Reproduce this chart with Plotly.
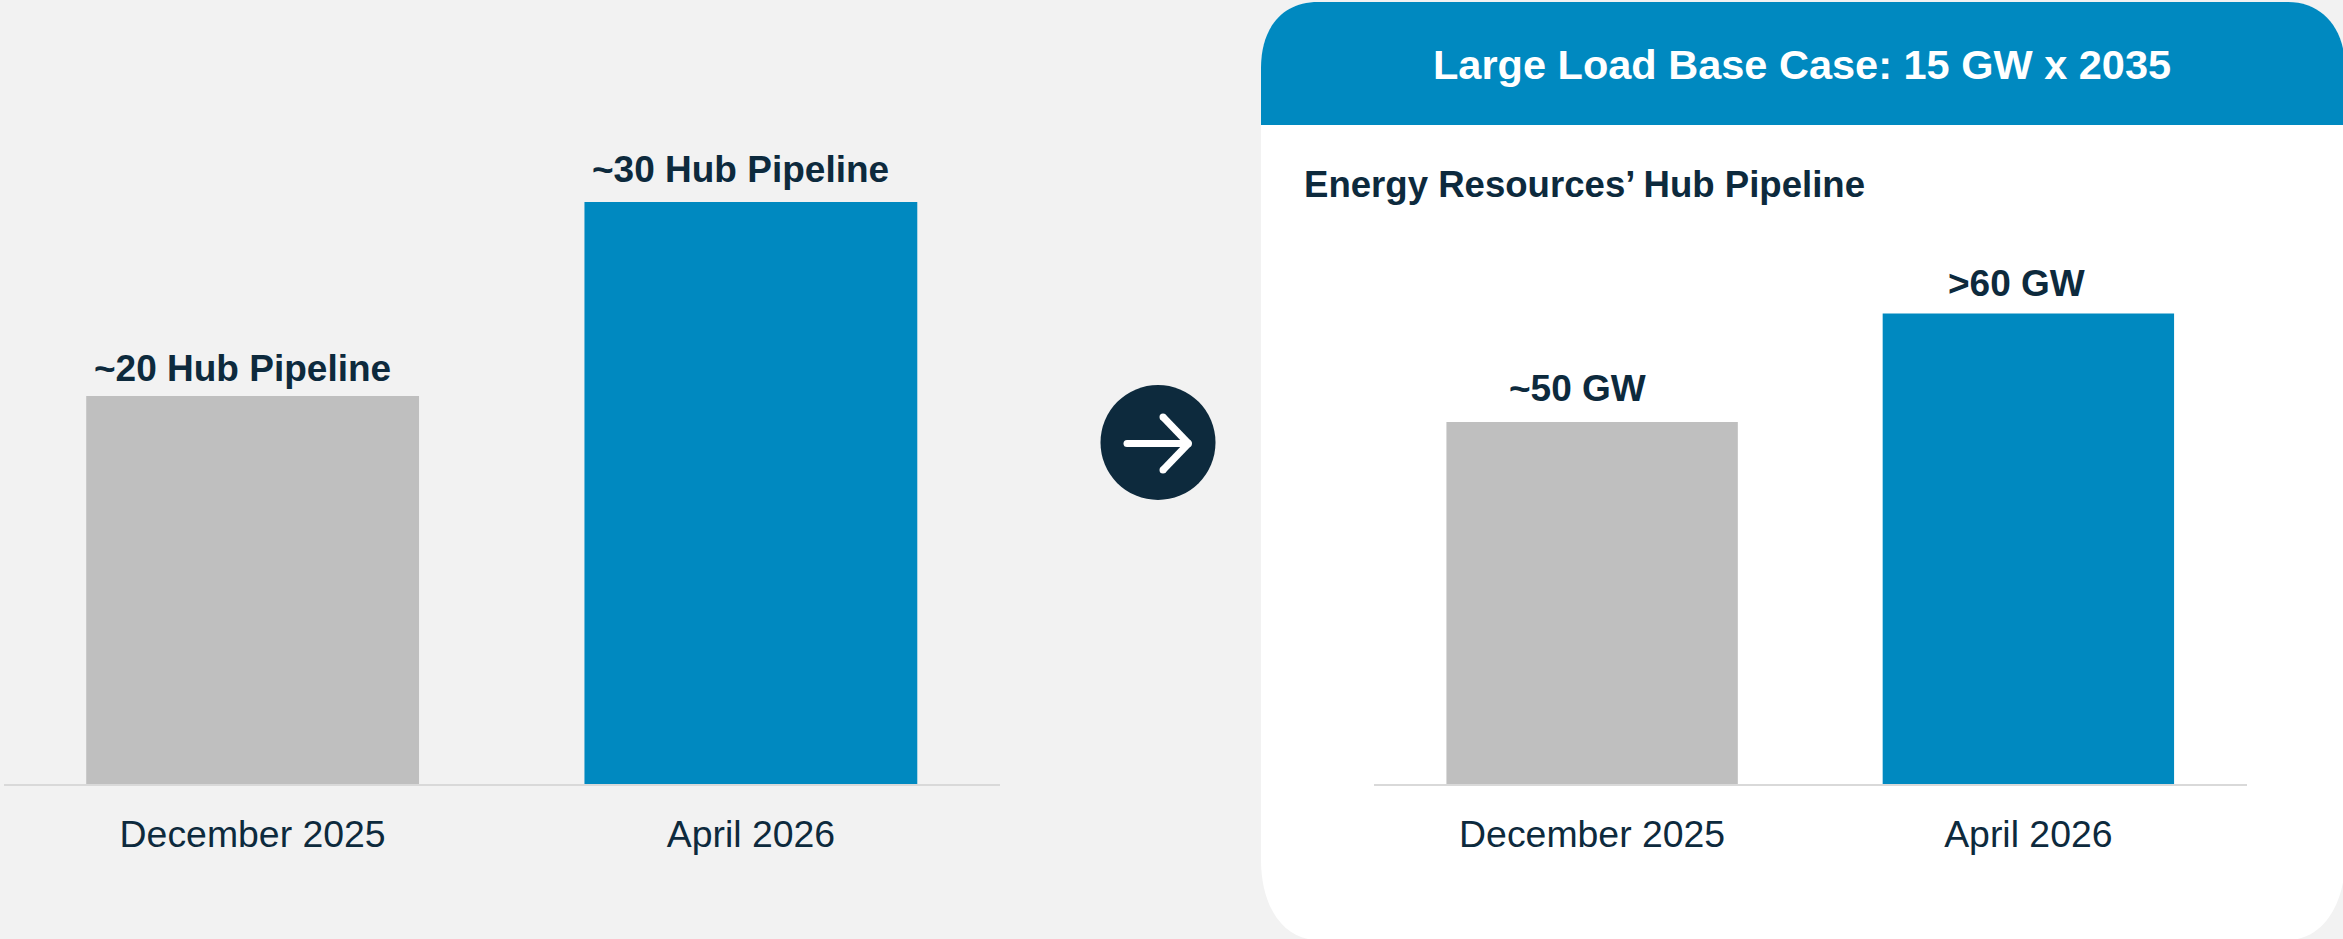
import plotly.graph_objects as go

W, H = 2343, 939
FONT = "Liberation Sans, Arial, sans-serif"
INK = "#0D2A3D"
BLUE = "#0089C0"
GRAY = "#BFBFBF"
BG = "#F2F2F2"
AXIS = "#D9D9D9"

periods = ["December 2025", "April 2026"]
hub_counts = [20, 30]
hub_labels = ["~20 Hub Pipeline", "~30 Hub Pipeline"]
hub_gw = [50, 65]
gw_labels = ["~50 GW", ">60 GW"]
bar_colors = [GRAY, BLUE]
header_text = "Large Load Base Case: 15 GW x 2035"
subtitle_text = "Energy Resources’ Hub Pipeline"


def px(x):
    return x / W


def py(y):
    return 1 - y / H


def path(cmds):
    out = []
    for c in cmds:
        op, pts = c[0], c[1:]
        out.append(op + " " + " ".join(f"{px(pts[i]):.6f},{py(pts[i+1]):.6f}" for i in range(0, len(pts), 2)))
    return " ".join(out) + " Z"


L, R, T, B = 1261, 2345, 2, 940
panel = path([("M", L, 68), ("C", L, 28, 1282, T, 1318, T), ("L", 2288, T), ("C", 2322, T, R, 28, R, 68),
              ("L", R, 860), ("C", R, 905, 2322, B, 2288, B), ("L", 1318, B), ("C", 1282, B, L, 905, L, 860)])
header = path([("M", L, 125), ("L", L, 68), ("C", L, 28, 1282, T, 1318, T), ("L", 2288, T),
               ("C", 2322, T, R, 28, R, 68), ("L", R, 125)])

shapes = [
    dict(type="path", path=panel, xref="paper", yref="paper", fillcolor="#FFFFFF", line_width=0, layer="below"),
    dict(type="path", path=header, xref="paper", yref="paper", fillcolor=BLUE, line_width=0, layer="below"),
    dict(type="circle", xref="paper", yref="paper", x0=px(1100.5), x1=px(1215.5), y0=py(500), y1=py(385),
         fillcolor=INK, line_width=0, layer="above"),
]
for seg in [(1127, 443.5, 1188.5, 443.5), (1163, 417, 1188.5, 443.5), (1188.5, 443.5, 1163, 470)]:
    shapes.append(dict(type="line", xref="paper", yref="paper", x0=px(seg[0]), y0=py(seg[1]), x1=px(seg[2]), y1=py(seg[3]),
                       line=dict(color="#FFFFFF", width=7), layer="above"))
for cx, cy in [(1127, 443.5), (1163, 417), (1163, 470), (1188.5, 443.5)]:
    shapes.append(dict(type="circle", xref="paper", yref="paper", x0=px(cx - 3.5), x1=px(cx + 3.5), y0=py(cy + 3.5), y1=py(cy - 3.5),
                       fillcolor="#FFFFFF", line_width=0, layer="above"))

fig = go.Figure()
fig.add_trace(go.Bar(x=periods, y=hub_counts, marker=dict(color=bar_colors, line_width=0), xaxis="x", yaxis="y",
                     hoverinfo="skip", showlegend=False))
fig.add_trace(go.Bar(x=periods, y=hub_gw, marker=dict(color=bar_colors, line_width=0), xaxis="x2", yaxis="y2",
                     hoverinfo="skip", showlegend=False))

annotations = []
for p, v, t, dx, dy in zip(periods, hub_counts, hub_labels, [-10, -10], [4.5, 9.5]):
    annotations.append(dict(x=p, y=v, xref="x", yref="y", text=f"<b>{t}</b>", showarrow=False, xanchor="center",
                            yanchor="bottom", xshift=dx, yshift=dy, font=dict(family=FONT, size=37, color=INK)))
for p, v, t, dx, dy in zip(periods, hub_gw, gw_labels, [-15, -12], [10.5, 7.5]):
    annotations.append(dict(x=p, y=v, xref="x2", yref="y2", text=f"<b>{t}</b>", showarrow=False, xanchor="center",
                            yanchor="bottom", xshift=dx, yshift=dy, font=dict(family=FONT, size=37, color=INK)))
annotations.append(dict(x=px(1802), y=py(64), xref="paper", yref="paper", text=f"<b>{header_text}</b>", showarrow=False,
                        xanchor="center", yanchor="middle", font=dict(family=FONT, size=41.5, color="#FFFFFF")))
annotations.append(dict(x=px(1302), y=py(185), xref="paper", yref="paper", text=f"<b>{subtitle_text}</b>", showarrow=False,
                        xanchor="left", yanchor="middle", font=dict(family=FONT, size=36.6, color=INK)))

xstyle = dict(type="category", range=[-0.5, 1.5], showgrid=False, zeroline=False, showline=True, linecolor=AXIS, linewidth=2,
              ticks="outside", ticklen=16, tickcolor="rgba(0,0,0,0)", tickwidth=1,
              tickfont=dict(family=FONT, size=37.4, color=INK), fixedrange=True)
ystyle = dict(visible=False, showgrid=False, zeroline=False, fixedrange=True)

fig.update_layout(
    width=W, height=H, autosize=False, margin=dict(l=0, r=0, t=0, b=0, pad=0),
    paper_bgcolor=BG, plot_bgcolor="rgba(0,0,0,0)", barmode="group", bargap=0.332, showlegend=False,
    xaxis=dict(domain=[px(3.5), px(1000)], anchor="y", **xstyle),
    yaxis=dict(domain=[py(784), py(104)], range=[0, 680 / 19.4], anchor="x", **ystyle),
    xaxis2=dict(domain=[px(1374), px(2246.5)], anchor="y2", **xstyle),
    yaxis2=dict(domain=[py(784), py(204)], range=[0, 580 / 7.24], anchor="x2", **ystyle),
    shapes=shapes, annotations=annotations,
)

fig.write_html("out.html", config=dict(displayModeBar=False),
               post_script="document.body.style.margin='0';document.body.style.overflow='hidden';")
